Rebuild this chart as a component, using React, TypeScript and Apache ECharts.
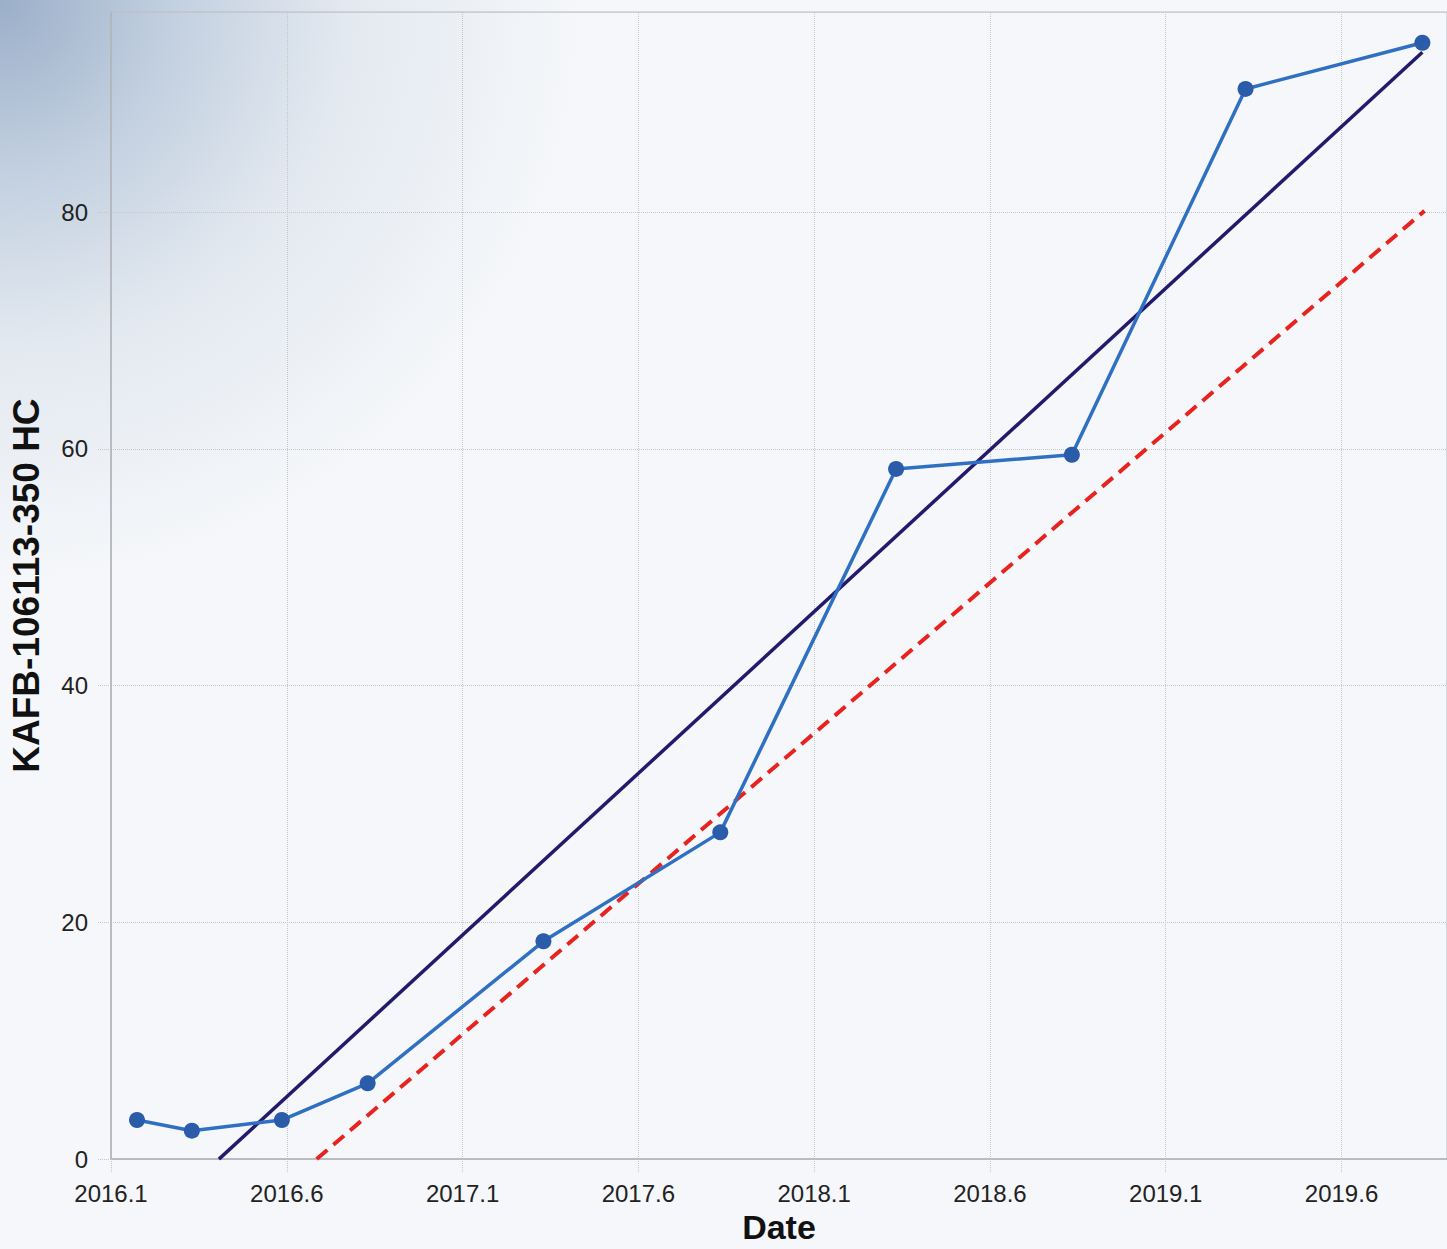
import React, { useEffect, useRef } from "react";
import * as echarts from "echarts";

// x values are stored as years elapsed since the axis origin 2016.1
const xOrigin = 2016.1;
const xTickStep = 0.5;
const xMax = 3.8;
const yMax = 96.9;
const yTickStep = 20;

const obsX = [0.074, 0.23, 0.486, 0.73, 1.23, 1.733, 2.233, 2.733, 3.227, 3.73];
const obsY = [3.3, 2.4, 3.3, 6.4, 18.4, 27.6, 58.3, 59.5, 90.4, 94.3];

const trendX = [0.307, 3.73];
const trendY = [0, 93.5];

const limitX = [0.585, 3.736];
const limitY = [0, 80.1];

const yAxisTitle = "KAFB-106113-350 HC";
const xAxisTitle = "Date";

const zip = (xs: number[], ys: number[]) => xs.map((x, i) => [x, ys[i]]);

export default function App() {
  const ref = useRef<HTMLDivElement>(null);
  useEffect(() => {
    if (!ref.current) return;
    document.body.style.margin = "0";
    document.body.style.overflow = "hidden";
    const chart = echarts.init(ref.current, undefined, { renderer: "svg" });
    const tickFont = "'Liberation Sans', Arial, sans-serif";
    const titleFont = "'Liberation Sans', Arial, sans-serif";
    chart.setOption({
      animation: false,
      backgroundColor: "#f5f7fa",
      graphic: [
        {
          type: "rect",
          z: -10,
          silent: true,
          shape: { x: 0, y: 0, width: 1447, height: 1249 },
          style: {
            fill: new echarts.graphic.RadialGradient(0, 0, 580, [
              { offset: 0, color: "#9bafc9" },
              { offset: 0.3, color: "#c3d0e0" },
              { offset: 0.6, color: "#e3e9f0" },
              { offset: 1, color: "#f5f7fa" },
            ], true),
          },
        },
      ],
      grid: {
        left: 110,
        right: 0,
        top: 12,
        bottom: 88,
        show: true,
        borderColor: "#b9bcc2",
        borderWidth: 1,
        backgroundColor: "transparent",
      },
      xAxis: {
        type: "value",
        min: 0,
        max: xMax,
        interval: xTickStep,
        name: xAxisTitle,
        nameLocation: "middle",
        nameGap: 50,
        nameTextStyle: { fontFamily: titleFont, fontWeight: "bold", fontSize: 34, color: "#111" },
        axisLine: { show: true, lineStyle: { color: "#b0b3b8", width: 1.5 } },
        axisTick: { show: true, length: 14, lineStyle: { color: "#c4c6ca", type: "dotted" } },
        axisLabel: {
          fontFamily: tickFont,
          fontSize: 24,
          color: "#222",
          margin: 22,
          formatter: (v: number) => (xOrigin + v).toFixed(1),
          showMaxLabel: false,
        },
        splitLine: { show: true, lineStyle: { color: "#c4c6ca", type: "dotted", width: 1 } },
      },
      yAxis: {
        type: "value",
        min: 0,
        max: yMax,
        interval: yTickStep,
        name: yAxisTitle,
        nameLocation: "middle",
        nameGap: 66,
        nameTextStyle: { fontFamily: titleFont, fontWeight: "bold", fontSize: 37, color: "#111" },
        axisLine: { show: true, lineStyle: { color: "#b0b3b8", width: 1.5 } },
        axisTick: { show: true, length: 14, lineStyle: { color: "#c4c6ca", type: "dotted" } },
        axisLabel: {
          fontFamily: tickFont,
          fontSize: 24,
          color: "#222",
          margin: 23,
          showMaxLabel: false,
        },
        splitLine: { show: true, lineStyle: { color: "#c4c6ca", type: "dotted", width: 1 } },
      },
      series: [
        {
          type: "line",
          data: zip(limitX, limitY),
          symbol: "none",
          lineStyle: { color: "#e8231f", width: 4, type: [14, 8] },
          z: 2,
        },
        {
          type: "line",
          data: zip(trendX, trendY),
          symbol: "none",
          lineStyle: { color: "#241a6c", width: 3.5 },
          z: 3,
        },
        {
          type: "line",
          data: zip(obsX, obsY),
          symbol: "circle",
          symbolSize: 16,
          itemStyle: { color: "#2a5caa" },
          lineStyle: { color: "#2f70c2", width: 3.5 },
          z: 4,
        },
      ],
    });
    return () => chart.dispose();
  }, []);
  return <div ref={ref} style={{ width: 1447, height: 1249 }} />;
}
